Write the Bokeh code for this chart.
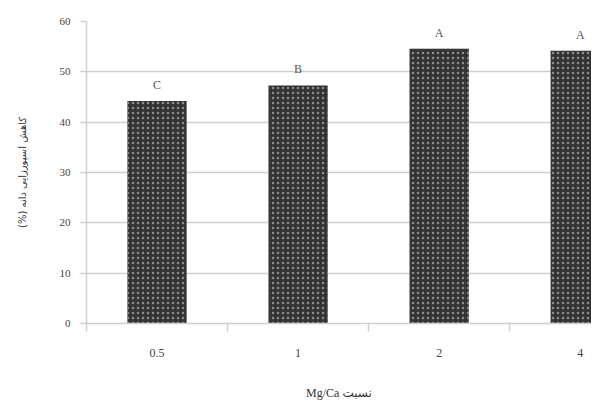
from bokeh.plotting import figure
from bokeh.models import ColumnDataSource, FixedTicker, Range1d
from bokeh.core.properties import value
from bokeh.embed import file_html
from bokeh.resources import INLINE

categories = ["0.5", "1", "2", "4"]
values = [44.2, 47.3, 54.6, 54.2]
letters = ["C", "B", "A", "A"]
y_ticks = [0, 10, 20, 30, 40, 50, 60]

xpos = [i + 0.5 for i in range(len(categories))]
src = ColumnDataSource(dict(x=xpos, top=values, lab=letters))

p = figure(width=591, height=402, output_backend="svg", toolbar_location=None,
           x_range=Range1d(0, 3.58), y_range=Range1d(0, 60),
           min_border_left=86, min_border_right=0, min_border_top=21, min_border_bottom=73)
p.outline_line_color = None
p.background_fill_color = "white"

p.vbar(x="x", top="top", width=0.42, source=src, fill_color="#333333", line_color=None,
       hatch_pattern="dot", hatch_color="#8f8f8f", hatch_scale=5, hatch_weight=1.2)

p.text(x="x", y="top", text="lab", source=src, text_align="center", text_baseline="bottom",
       y_offset=-9, text_font=value("Liberation Serif"), text_font_size="12px", text_color="#555555")

grid_color = "#cfcfcf"
p.xgrid.visible = False
p.ygrid.ticker = FixedTicker(ticks=y_ticks)
p.ygrid.grid_line_color = grid_color
p.ygrid.grid_line_width = 1.5

xa = p.xaxis[0]
xa.ticker = FixedTicker(ticks=xpos, minor_ticks=[0, 1, 2, 3, 4])
xa.major_label_overrides = {x: c for x, c in zip(xpos, categories)}
xa.major_tick_out = 0
xa.major_tick_in = 0
xa.minor_tick_out = 8
xa.minor_tick_in = 0
xa.minor_tick_line_color = grid_color
xa.minor_tick_line_width = 1.5
xa.axis_line_color = grid_color
xa.axis_line_width = 1.5
xa.major_label_standoff = 17
xa.major_label_text_font = "Liberation Serif"
xa.major_label_text_font_size = "12px"
xa.major_label_text_color = "#444444"
xa.axis_label = "Mg/Ca نسبت"
xa.axis_label_standoff = 26
xa.axis_label_text_font = "Liberation Serif, DejaVu Sans"
xa.axis_label_text_font_size = "12px"
xa.axis_label_text_font_style = "normal"
xa.axis_label_text_color = "#333333"

ya = p.yaxis[0]
ya.ticker = FixedTicker(ticks=y_ticks)
ya.minor_tick_out = 0
ya.minor_tick_in = 0
ya.major_tick_out = 6
ya.major_tick_in = 0
ya.major_tick_line_color = grid_color
ya.major_tick_line_width = 1.5
ya.axis_line_color = grid_color
ya.axis_line_width = 1.5
ya.major_label_standoff = 10
ya.major_label_text_font = "Liberation Serif"
ya.major_label_text_font_size = "11px"
ya.major_label_text_color = "#444444"
ya.axis_label = "(%) کاهش اسپورزایی دانه"
ya.axis_label_standoff = 29
ya.axis_label_text_font = "DejaVu Sans"
ya.axis_label_text_font_size = "10px"
ya.axis_label_text_font_style = "normal"
ya.axis_label_text_color = "#333333"

open("out.html", "w").write(file_html(p, INLINE))
